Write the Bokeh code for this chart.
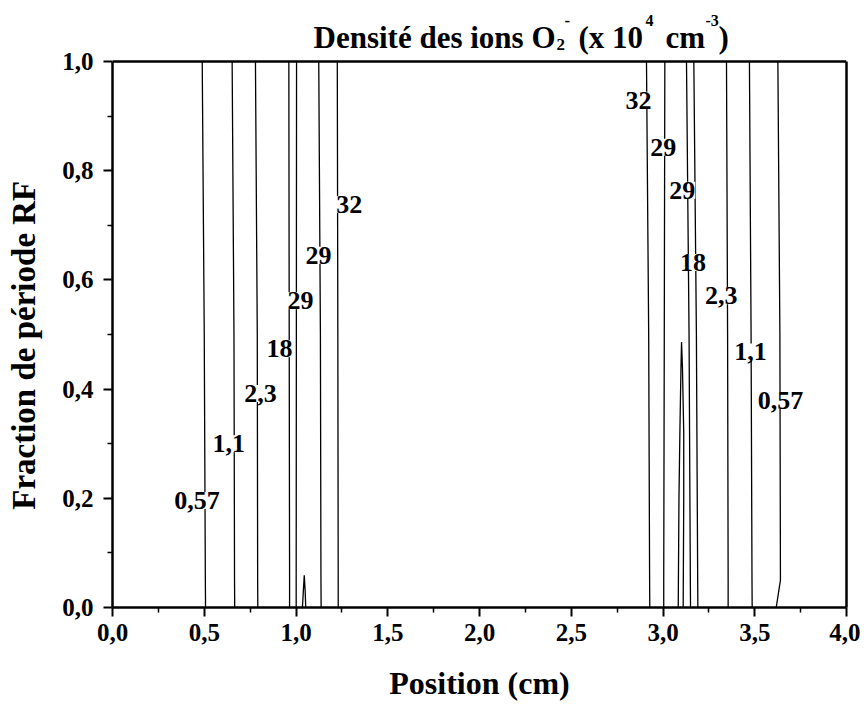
from bokeh.plotting import figure
from bokeh.models import Range1d, FixedTicker, CustomJSTickFormatter, LinearAxis, Span
from bokeh.core.properties import value
from bokeh.embed import file_html
from bokeh.resources import INLINE

# ---------------- data ----------------
x_ticks = [0.0, 0.5, 1.0, 1.5, 2.0, 2.5, 3.0, 3.5, 4.0]
x_minor = [0.25, 0.75, 1.25, 1.75, 2.25, 2.75, 3.25, 3.75]
y_ticks = [0.0, 0.2, 0.4, 0.6, 0.8, 1.0]
y_minor = [0.1, 0.3, 0.5, 0.7, 0.9]

# contour lines: x positions at these y positions
contour_y = [0.0, 0.05, 0.5, 1.0]
left_057 = [0.507, 0.506, 0.500, 0.489]
left_11 = [0.666, 0.665, 0.662, 0.652]
left_23 = [0.792, 0.791, 0.789, 0.779]
left_18 = [0.965, 0.965, 0.963, 0.961]
left_29a = [1.001, 1.001, 1.002, 1.003]
left_29b = [1.137, 1.136, 1.133, 1.124]
left_32 = [1.230, 1.230, 1.228, 1.225]
right_32 = [2.928, 2.927, 2.922, 2.910]
right_29a = [3.004, 3.004, 3.007, 3.010]
right_29b = [3.150, 3.149, 3.142, 3.128]
right_18 = [3.190, 3.189, 3.182, 3.168]
right_23 = [3.355, 3.355, 3.352, 3.346]
right_11 = [3.486, 3.485, 3.480, 3.471]
right_057 = [3.617, 3.640, 3.637, 3.626]
contours_x = [left_057, left_11, left_23, left_18, left_29a, left_29b, left_32,
              right_32, right_29a, right_29b, right_18, right_23, right_11, right_057]

# closed thin contours (spikes) rising from the bottom
spike_left_x = [1.035, 1.040, 1.045, 1.050, 1.053]
spike_left_y = [0.0, 0.03, 0.059, 0.03, 0.0]
spike_right_x = [3.083, 3.087, 3.092, 3.098, 3.101, 3.106, 3.113, 3.113, 3.110]
spike_right_y = [0.0, 0.2, 0.32, 0.44, 0.486, 0.44, 0.32, 0.2, 0.0]

# contour level labels
label_text = ["0,57", "1,1", "2,3", "18", "29", "29", "32",
              "32", "29", "29", "18", "2,3", "1,1", "0,57"]
label_x = [0.461, 0.634, 0.807, 0.910, 1.024, 1.123, 1.290,
           2.867, 3.001, 3.105, 3.164, 3.317, 3.477, 3.640]
label_y = [0.196, 0.300, 0.392, 0.474, 0.562, 0.645, 0.738,
           0.929, 0.843, 0.764, 0.632, 0.571, 0.468, 0.379]

# title pieces: text, font size (px), left edge (px), baseline (px from top)
title_text = ["Densité des ions O", "2", "-", "(x 10", "4", "cm", "-3", ")"]
title_size = [31, 17, 17, 31, 16, 31, 16, 31]
title_left_px = [313, 556, 564, 578, 645, 665, 705, 718]
title_base_px = [37, 44, 20, 37, 20, 37, 20, 37]

FONT = "Liberation Serif"

# layout (px)
FRAME_L, FRAME_R, FRAME_T, FRAME_B = 112, 846, 61, 607
W_FIG, H_FIG = 860, 704
px_per_x = (FRAME_R - FRAME_L) / 4.0
px_per_y = (FRAME_B - FRAME_T) / 1.0
y_top = 1.0 + FRAME_T / px_per_y  # room above the data area for the title

p = figure(width=W_FIG, height=H_FIG, output_backend="svg", toolbar_location=None,
           x_range=Range1d(0, 4), y_range=Range1d(0, y_top),
           min_border_left=FRAME_L, min_border_right=W_FIG - FRAME_R,
           min_border_top=0, min_border_bottom=H_FIG - FRAME_B)
p.grid.visible = False
p.outline_line_color = None
p.background_fill_color = "white"
p.border_fill_color = "white"

fmt = CustomJSTickFormatter(code="return tick.toFixed(1).replace('.', ',');")
p.xaxis.ticker = FixedTicker(ticks=x_ticks, minor_ticks=x_minor)
p.yaxis.ticker = FixedTicker(ticks=y_ticks, minor_ticks=y_minor)
p.yaxis.bounds = (0, 1)
p.xaxis.formatter = fmt
p.yaxis.formatter = fmt
p.xaxis.axis_label = "Position (cm)"
# trailing no-break spaces keep the label centred on the 0..1 span, not on the taller frame
p.yaxis.axis_label = "Fraction de période RF" + "\u00a0" * 10
for ax in (p.xaxis[0], p.yaxis[0]):
    ax.axis_line_width = 2.5
    ax.axis_line_color = "black"
    ax.major_tick_line_width = 2
    ax.major_tick_line_color = "black"
    ax.major_tick_out = 9
    ax.major_tick_in = 0
    ax.minor_tick_line_width = 1.5
    ax.minor_tick_line_color = "black"
    ax.minor_tick_out = 5
    ax.minor_tick_in = 0
    ax.major_label_text_font = FONT
    ax.major_label_text_font_style = "bold"
    ax.major_label_text_font_size = "25px"
    ax.major_label_text_color = "black"
    ax.axis_label_text_font = FONT
    ax.axis_label_text_font_style = "bold"
    ax.axis_label_text_color = "black"
p.xaxis.axis_label_text_font_size = "32px"
p.yaxis.axis_label_text_font_size = "33px"
p.xaxis.major_label_standoff = 7
p.yaxis.major_label_standoff = 10
p.xaxis.axis_label_standoff = 21
p.yaxis.axis_label_standoff = 17

# right border of the frame (axis line only)
right_axis = LinearAxis(ticker=FixedTicker(ticks=[]), bounds=(0, 1),
                        axis_line_width=2.5, axis_line_color="black",
                        major_tick_out=0, major_tick_in=0, minor_tick_out=0, minor_tick_in=0,
                        major_label_text_font_size="0px", major_label_standoff=0)
p.add_layout(right_axis, "right")
# top border of the frame
p.add_layout(Span(location=1.0, dimension="width", line_color="black", line_width=2.5))

for cx in contours_x:
    p.line(cx, contour_y, line_color="black", line_width=1.3)
p.line(spike_left_x, spike_left_y, line_color="black", line_width=1.3)
p.line(spike_right_x, spike_right_y, line_color="black", line_width=1.3)

p.text(x=label_x, y=label_y, text=label_text,
       text_font=value(FONT), text_font_style="bold", text_font_size="26px",
       text_align="center", text_baseline="middle", text_color="black",
       background_fill_color="white")

# title as text pieces (subscript / superscripts)
for txt, size, lx, by in zip(title_text, title_size, title_left_px, title_base_px):
    p.text(x=[(lx - FRAME_L) / px_per_x], y=[1.0 + (FRAME_T - by) / px_per_y], text=[txt],
           text_font=value(FONT), text_font_style="bold", text_font_size=f"{size}px",
           text_align="left", text_baseline="alphabetic", text_color="black")

open("out.html", "w").write(file_html(p, INLINE))
